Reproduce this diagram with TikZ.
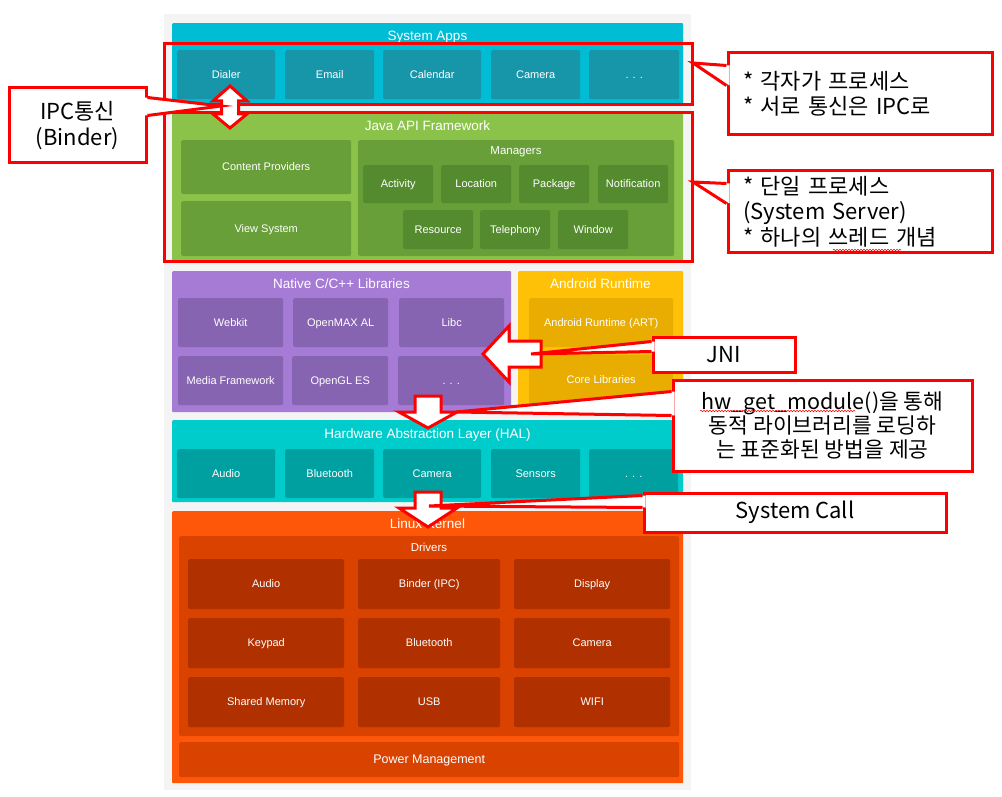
\documentclass[tikz,border=0pt]{standalone}
\usepackage{fontspec}
\setmainfont{Liberation Sans}
\newfontfamily\kofont{Noto Sans CJK KR}
\usetikzlibrary{positioning,decorations.pathmorphing}

\definecolor{bggrey}{HTML}{F4F4F4}
\definecolor{appsbg}{HTML}{00BCD4}
\definecolor{appsbox}{HTML}{1796AA}
\definecolor{javabg}{HTML}{8BC34A}
\definecolor{javabox}{HTML}{689F38}
\definecolor{mgrbox}{HTML}{558B2F}
\definecolor{nativebg}{HTML}{A57BD6}
\definecolor{nativebox}{HTML}{8764B2}
\definecolor{artbg}{HTML}{FFC107}
\definecolor{artbox}{HTML}{E8AD00}
\definecolor{halbg}{HTML}{00CCCC}
\definecolor{halbox}{HTML}{00A0A0}
\definecolor{kernelbg}{HTML}{FF570A}
\definecolor{drvbg}{HTML}{DA4200}
\definecolor{drvbox}{HTML}{B03000}
\definecolor{callred}{HTML}{FF0000}

\tikzset{
  layer/.style={anchor=north west, inner sep=0pt, rounded corners=1pt},
  blk/.style={anchor=north west, inner sep=0pt, rounded corners=1.5pt, text=white,
    text height=8pt, text depth=1pt, font=\fontsize{11}{13}\selectfont},
  ttl/.style={text=white, inner sep=0pt, text height=10pt, text depth=1pt,
    font=\fontsize{13.5}{16}\selectfont},
  subttl/.style={text=white, inner sep=0pt, text height=8.5pt, text depth=1pt,
    font=\fontsize{11.5}{14}\selectfont},
  redline/.style={draw=callred, line width=3pt},
  note/.style={draw=callred, line width=3pt, fill=white, inner sep=0pt, text=black,
    font=\kofont\fontsize{22}{25.5}\selectfont},
  blockarrow/.style={draw=callred, line width=3pt, fill=white},
  squiggle/.style={callred, line width=0.6pt, decorate,
    decoration={snake, amplitude=0.7pt, segment length=3pt}}
}

\begin{document}
\begin{tikzpicture}[x=1pt,y=-1pt]
\useasboundingbox (0,0) rectangle (1002,797);
\fill[bggrey] (164,14) rectangle (691,790);

% system apps
\node[layer, fill=appsbg, minimum width=511pt, minimum height=81pt] (apps) at (172,23) {};
\node[ttl] (apps-t) at (427.5,36) {System Apps};
\foreach \name/\x/\w [count=\i] in {Dialer/177/98, Email/285/89, Calendar/383/98, Camera/491/89, {. . .}/589/90}
  \node[blk, fill=appsbox, minimum width=\w pt, minimum height=49pt] (app\i) at (\x,50) {\name};

% java api framework
\node[layer, fill=javabg, minimum width=511pt, minimum height=151pt] (java) at (172,111) {};
\node[ttl] (java-t) at (427.5,126) {Java API Framework};
\node[blk, fill=javabox, minimum width=170pt, minimum height=54pt] (provider) at (181,140) {Content Providers};
\node[blk, fill=javabox, minimum width=170pt, minimum height=55pt] (view) at (181,201) {View System};
\node[blk, fill=javabox, minimum width=316pt, minimum height=116pt] (mgr) at (358,140) {};
\node[subttl] (mgr-t) at (516,151) {Managers};
\foreach \name/\x [count=\i] in {Activity/363, Location/441, Package/519, Notification/598}
  \node[blk, fill=mgrbox, minimum width=70pt, minimum height=38pt] (mgr\i) at (\x,165) {\name};
\foreach \name/\x [count=\i] in {Resource/403, Telephony/480, Window/558}
  \node[blk, fill=mgrbox, minimum width=70pt, minimum height=39pt] (mgrb\i) at (\x,210) {\name};

% native libraries and runtime
\node[layer, fill=nativebg, minimum width=339pt, minimum height=141pt] (native) at (172,271) {};
\node[ttl] (native-t) at (341.5,284) {Native C/C++ Libraries};
\foreach \name/\x/\w [count=\i] in {Webkit/178/105, OpenMAX AL/293/95, Libc/399/105}
  \node[blk, fill=nativebox, minimum width=\w pt, minimum height=49pt] (lib\i) at (\x,298) {\name};
\foreach \name/\x/\w [count=\i] in {Media Framework/178/105, OpenGL ES/292/96, {. . .}/398/106}
  \node[blk, fill=nativebox, minimum width=\w pt, minimum height=49pt] (libb\i) at (\x,356) {\name};
\node[layer, fill=artbg, minimum width=165pt, minimum height=141pt] (art) at (518,271) {};
\node[ttl] (art-t) at (600.5,284) {Android Runtime};
\node[blk, fill=artbox, minimum width=144pt, minimum height=49pt] (artvm) at (529,298) {Android Runtime (ART)};
\node[blk, fill=artbox, minimum width=144pt, minimum height=50pt] (core) at (529,355) {Core Libraries};

% hal
\node[layer, fill=halbg, minimum width=511pt, minimum height=82pt] (hal) at (172,420) {};
\node[ttl] (hal-t) at (427.5,434) {Hardware Abstraction Layer (HAL)};
\foreach \name/\x/\w [count=\i] in {Audio/177/98, Bluetooth/285/89, Camera/383/98, Sensors/491/89, {. . .}/589/89}
  \node[blk, fill=halbox, minimum width=\w pt, minimum height=49pt] (hal\i) at (\x,449) {\name};

% kernel
\node[layer, fill=kernelbg, minimum width=511pt, minimum height=272pt] (kernel) at (172,511) {};
\node[ttl] (kernel-t) at (427.5,524) {Linux Kernel};
\node[blk, fill=drvbg, minimum width=500pt, minimum height=200pt] (drv) at (179,536) {};
\node[subttl] (drv-t) at (429,548) {Drivers};
\foreach \y/\a/\b/\c [count=\r] in {559/Audio/{Binder (IPC)}/Display, 618/Keypad/Bluetooth/Camera, 677/{Shared Memory}/USB/WIFI} {
  \node[blk, fill=drvbox, minimum width=156pt, minimum height=50pt] (drv\r a) at (188,\y) {\a};
  \node[blk, fill=drvbox, minimum width=142pt, minimum height=50pt] (drv\r b) at (358,\y) {\b};
  \node[blk, fill=drvbox, minimum width=156pt, minimum height=50pt] (drv\r c) at (514,\y) {\c};
}
\node[blk, fill=drvbg, minimum width=500pt, minimum height=35pt, text height=9pt, font=\fontsize{12.5}{14}\selectfont] (power) at (179,742) {Power Management};

% red frames
\draw[redline] (164.5,44) rectangle (692,105);
\draw[redline] (164.5,113) rectangle (692,261);

% block arrows
\coordinate (ipc-arr) at (230,86);
\draw[blockarrow] (ipc-arr) -- ++(17,15) -- ++(-8.5,0) -- ++(0,13) -- ++(8.5,0) -- ++(-17,14)
  -- ++(-17,-14) -- ++(8.5,0) -- ++(0,-13) -- ++(-8.5,0) -- cycle;
\coordinate (jni-arr) at (483,354);
\draw[blockarrow] (jni-arr) -- ++(26,-28) -- ++(0,15) -- ++(32,0) -- ++(0,26) -- ++(-32,0) -- ++(0,15) -- cycle;
\coordinate (hal-arr) at (415,396);
\draw[blockarrow] (hal-arr) -- ++(26,0) -- ++(0,16) -- ++(16,0) -- ++(-29,16) -- ++(-29,-16) -- ++(16,0) -- cycle;
\coordinate (sys-arr) at (415,492);
\draw[blockarrow] (sys-arr) -- ++(26,0) -- ++(0,16) -- ++(16,0) -- ++(-29,19) -- ++(-29,-19) -- ++(16,0) -- cycle;

% callouts
\node[note, minimum width=137pt, minimum height=75pt, align=center] (ipc) at (77.5,125.5) {IPC통신\\(Binder)};
\coordinate (ipc-tip) at (221,106);
\fill[white] ([shift={(-3,11)}]ipc.north east) -- (ipc-tip) -- ([shift={(-3,29)}]ipc.north east) -- cycle;
\draw[redline] ([shift={(0,11)}]ipc.north east) -- (ipc-tip) -- ([shift={(0,29)}]ipc.north east);

\node[note, minimum width=264pt, minimum height=82pt, text width=234pt, align=left] (proc) at (860,94)
  {* 각자가 프로세스\\{*} 서로 통신은 IPC로};
\coordinate (proc-tip) at (693,63);
\fill[white] ([shift={(3,14)}]proc.north west) -- (proc-tip) -- ([shift={(3,34)}]proc.north west) -- cycle;
\draw[redline] ([shift={(0,14)}]proc.north west) -- (proc-tip) -- ([shift={(0,34)}]proc.north west);

\node[note, minimum width=264pt, minimum height=81pt, text width=234pt, align=left] (server) at (860,211.5)
  {* 단일 프로세스\\(System Server)\\{*} 하나의 쓰레드 개념};
\coordinate (server-tip) at (693,182);
\fill[white] ([shift={(3,14)}]server.north west) -- (server-tip) -- ([shift={(3,34)}]server.north west) -- cycle;
\draw[redline] ([shift={(0,14)}]server.north west) -- (server-tip) -- ([shift={(0,34)}]server.north west);
\draw[squiggle] (833,250) -- (901,250);

\node[note, minimum width=142pt, minimum height=35pt] (jni) at (724,354.5) {JNI};
\coordinate (jni-tip) at (531,354);
\fill[white] ([shift={(3,6)}]jni.north west) -- (jni-tip) -- ([shift={(3,16)}]jni.north west) -- cycle;
\draw[redline] ([shift={(0,6)}]jni.north west) -- (jni-tip) -- ([shift={(0,16)}]jni.north west);

\node[note, minimum width=299pt, minimum height=91pt, align=center, font=\kofont\fontsize{21.5}{24}\selectfont] (hw) at (822.5,425.5)
  {hw\_get\_module()을 통해\\동적 라이브러리를 로딩하\\는 표준화된 방법을 제공};
\coordinate (hw-tip) at (456,412);
\fill[white] ([shift={(3,13)}]hw.north west) -- (hw-tip) -- ([shift={(3,37)}]hw.north west) -- cycle;
\draw[redline] ([shift={(0,13)}]hw.north west) -- (hw-tip) -- ([shift={(0,37)}]hw.north west);
\draw[squiggle] (700,411) -- (855,411);

\node[note, minimum width=302pt, minimum height=39pt] (syscall) at (795,512.5) {System Call};
\coordinate (sys-tip) at (429,506);
\fill[white] ([shift={(3,4)}]syscall.north west) -- (sys-tip) -- ([shift={(3,16)}]syscall.north west) -- cycle;
\draw[redline] ([shift={(0,4)}]syscall.north west) -- (sys-tip) -- ([shift={(0,16)}]syscall.north west);
\end{tikzpicture}
\end{document}
